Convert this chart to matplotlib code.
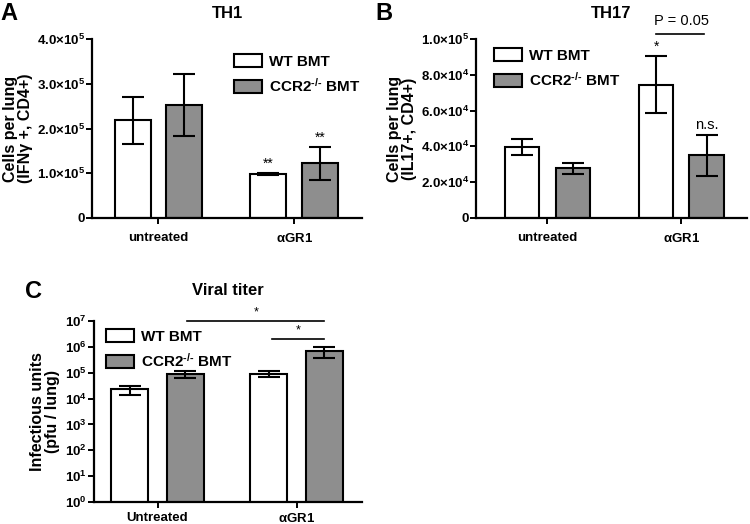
import matplotlib
matplotlib.use("Agg")
import matplotlib.pyplot as plt
import numpy as np
from matplotlib.patches import Patch
from matplotlib.ticker import FixedLocator, LogLocator, NullFormatter

plt.rcParams['font.family'] = ['Liberation Sans', 'DejaVu Sans']
plt.rcParams['font.weight'] = 'bold'
plt.rcParams['axes.labelweight'] = 'bold'
plt.rcParams['axes.titleweight'] = 'bold'
plt.rcParams['mathtext.fontset'] = 'custom'
plt.rcParams['mathtext.rm'] = 'Liberation Sans:bold'
plt.rcParams['mathtext.bf'] = 'Liberation Sans:bold'
plt.rcParams['mathtext.it'] = 'Liberation Sans:bold'
plt.rcParams['mathtext.default'] = 'bf'

# ---- data ----
groups_ab = ["untreated", r"$\alpha$GR1"]
groups_c = ["Untreated", r"$\alpha$GR1"]
series = ["WT BMT", r"CCR2$^{\text{-/-}}$ BMT"]

th1_wt = [2.18e5, 0.98e5]
th1_wt_err = [0.52e5, 0.03e5]
th1_ko = [2.53e5, 1.22e5]
th1_ko_err = [0.69e5, 0.36e5]

th17_wt = [3.98e4, 7.45e4]
th17_wt_err = [0.45e4, 1.58e4]
th17_ko = [2.78e4, 3.50e4]
th17_ko_err = [0.30e4, 1.13e4]

vt_wt = [2.3e4, 9.3e4]
vt_wt_err = [0.9e4, 2.7e4]
vt_ko = [9.0e4, 6.9e5]
vt_ko_err = [2.6e4, 3.3e5]

th1_ticks = [0, 1e5, 2e5, 3e5, 4e5]
th1_ticklabels = ["0", r"1.0$\times$10$^{5}$", r"2.0$\times$10$^{5}$",
                  r"3.0$\times$10$^{5}$", r"4.0$\times$10$^{5}$"]
th17_ticks = [0, 2e4, 4e4, 6e4, 8e4, 1e5]
th17_ticklabels = ["0", r"2.0$\times$10$^{4}$", r"4.0$\times$10$^{4}$",
                   r"6.0$\times$10$^{4}$", r"8.0$\times$10$^{4}$", r"1.0$\times$10$^{5}$"]
vt_ticks = [1, 10, 1e2, 1e3, 1e4, 1e5, 1e6, 1e7]
vt_ticklabels = [r"10$^{%d}$" % i for i in range(8)]

WHITE = "white"
GRAY = "#8e8e8e"

fig = plt.figure(figsize=(7.5, 5.24), dpi=100)

def style_axes(ax):
    for s in ["top", "right"]:
        ax.spines[s].set_visible(False)
    for s in ["left", "bottom"]:
        ax.spines[s].set_linewidth(1.6)
    ax.tick_params(axis="y", direction="out", length=4, width=1.4, labelsize=9.5, pad=1)
    ax.tick_params(axis="x", direction="out", length=4, width=1.4, labelsize=9.5, pad=6)

def bars(ax, wt, wte, ko, koe, off, w):
    x = np.arange(len(wt))
    ax.bar(x - off, wt, w, yerr=wte, color=WHITE, edgecolor="black", linewidth=1.5,
           error_kw=dict(elinewidth=1.5, capsize=8, capthick=1.5, ecolor="black"), zorder=2)
    ax.bar(x + off, ko, w, yerr=koe, color=GRAY, edgecolor="black", linewidth=1.5,
           error_kw=dict(elinewidth=1.5, capsize=8, capthick=1.5, ecolor="black"), zorder=2)
    return x

def legend(ax, loc_anchor):
    handles = [Patch(facecolor=WHITE, edgecolor="black", linewidth=1.5),
               Patch(facecolor=GRAY, edgecolor="black", linewidth=1.5)]
    ax.legend(handles, series, loc="upper left", bbox_to_anchor=loc_anchor, frameon=False,
              fontsize=11, handlelength=1.8, handleheight=0.9, handletextpad=0.5,
              labelspacing=0.55, borderaxespad=0)

# ---- Panel A ----
axA = fig.add_axes([92/750, 1-218/524, 270/750, 179/524])
xA = bars(axA, th1_wt, th1_wt_err, th1_ko, th1_ko_err, 0.19, 0.265)
axA.set_xlim(-0.49, 1.50)
axA.set_ylim(0, 4e5)
axA.yaxis.set_major_locator(FixedLocator(th1_ticks))
axA.set_yticklabels(th1_ticklabels)
axA.set_xticks(xA)
axA.set_xticklabels(groups_ab)
style_axes(axA)
axA.set_ylabel("Cells per lung\n(IFN\u03b3 +, CD4+)", fontsize=11.5, labelpad=3, linespacing=1.0)
axA.set_title("TH1", fontsize=12, pad=15)
legend(axA, ((228-92)/270, (218-48)/179))
axA.text(xA[1] - 0.19, th1_wt[1] + th1_wt_err[1] + 0.05e5, "**", ha="center", va="bottom",
         fontsize=10, fontweight="normal")
axA.text(xA[1] + 0.19, th1_ko[1] + th1_ko_err[1] + 0.05e5, "**", ha="center", va="bottom",
         fontsize=10, fontweight="normal")
fig.text(0/750, 1-2/524, "A", fontsize=17, fontweight="bold", ha="left", va="top")

# ---- Panel B ----
axB = fig.add_axes([476/750, 1-218/524, 271/750, 179/524])
xB = bars(axB, th17_wt, th17_wt_err, th17_ko, th17_ko_err, 0.188, 0.255)
axB.set_xlim(-0.534, 1.49)
axB.set_ylim(0, 1e5)
axB.yaxis.set_major_locator(FixedLocator(th17_ticks))
axB.set_yticklabels(th17_ticklabels)
axB.set_xticks(xB)
axB.set_xticklabels(groups_ab)
style_axes(axB)
axB.set_ylabel("Cells per lung\n(IL17+, CD4+)", fontsize=11.5, labelpad=3, linespacing=1.0)
axB.set_title("TH17", fontsize=12, pad=15)
legend(axB, ((488-476)/271, (218-42)/179))
axB.text(xB[1] - 0.188, th17_wt[1] + th17_wt_err[1] + 0.15e4, "*", ha="center", va="bottom",
         fontsize=10, fontweight="normal")
axB.text(xB[1] + 0.188, th17_ko[1] + th17_ko_err[1] + 0.15e4, "n.s.", ha="center", va="bottom",
         fontsize=10.5, fontweight="normal")
axB.plot([xB[1] - 0.188, xB[1] + 0.17], [1.03e5, 1.03e5], color="black", lw=1.2, clip_on=False)
axB.text(xB[1], 1.06e5, "P = 0.05", ha="center", va="bottom", fontsize=10.5,
         fontweight="normal", clip_on=False)
fig.text(375/750, 1-2/524, "B", fontsize=17, fontweight="bold", ha="left", va="top")

# ---- Panel C ----
axC = fig.add_axes([94/750, 1-502/524, 268/750, 181/524])
axC.set_yscale("log")
xC = bars(axC, vt_wt, vt_wt_err, vt_ko, vt_ko_err, 0.2, 0.265)
axC.set_xlim(-0.457, 1.47)
axC.set_ylim(1, 1e7)
axC.yaxis.set_major_locator(FixedLocator(vt_ticks))
axC.set_yticklabels(vt_ticklabels)
axC.yaxis.set_minor_locator(LogLocator(base=10, subs=np.arange(2, 10)))
axC.yaxis.set_minor_formatter(NullFormatter())
axC.set_xticks(xC)
axC.set_xticklabels(groups_c)
style_axes(axC)
axC.tick_params(axis="y", which="minor", direction="out", length=2.5, width=1.0)
axC.tick_params(axis="x", pad=3)
axC.set_ylabel("Infectious units\n(pfu / lung)", fontsize=11.5, labelpad=4, linespacing=1.0)
axC.set_title("Viral titer", fontsize=12, pad=19)
legend(axC, ((100-94)/268, (502-323)/181))
axC.plot([0.21, 1.2], [1e7, 1e7], color="black", lw=1.2, clip_on=False)
axC.text(0.71, 1.25e7, "*", ha="center", va="bottom", fontsize=9, fontweight="normal")
axC.plot([0.82, 1.2], [2.0e6, 2.0e6], color="black", lw=1.2, clip_on=False)
axC.text(1.01, 2.5e6, "*", ha="center", va="bottom", fontsize=9, fontweight="normal")
fig.text(25/750, 1-280/524, "C", fontsize=17, fontweight="bold", ha="left", va="top")

fig.savefig("out.png", dpi=100)
